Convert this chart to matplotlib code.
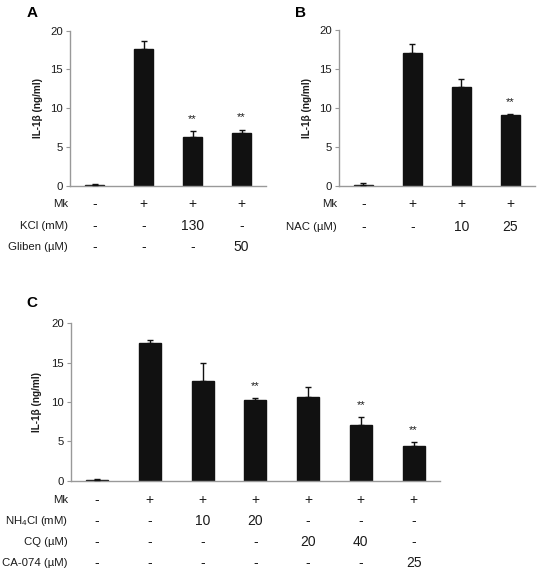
import matplotlib
matplotlib.use("Agg")
import matplotlib.pyplot as plt
import matplotlib.transforms as mtransforms

plt.rcParams['font.family'] = ['Liberation Sans', 'DejaVu Sans']
plt.rcParams['mathtext.fontset'] = 'custom'
plt.rcParams['mathtext.rm'] = 'Liberation Sans'
plt.rcParams['mathtext.it'] = 'Liberation Sans:italic'

# ---- data ----
a_values = [0.13, 17.6, 6.3, 6.75]
a_errors = [0.13, 1.05, 0.75, 0.5]
a_sig = ["", "", "**", "**"]
a_rows = ["Mk", "KCl (mM)", "Gliben (\u00b5M)"]
a_table = [["-", "+", "+", "+"],
           ["-", "-", "130", "-"],
           ["-", "-", "-", "50"]]

b_values = [0.13, 17.1, 12.7, 9.05]
b_errors = [0.17, 1.15, 0.95, 0.12]
b_sig = ["", "", "", "**"]
b_rows = ["Mk", "NAC (\u00b5M)"]
b_table = [["-", "+", "+", "+"],
           ["-", "-", "10", "25"]]

c_values = [0.12, 17.55, 12.7, 10.25, 10.6, 7.05, 4.4]
c_errors = [0.13, 0.38, 2.2, 0.22, 1.35, 1.05, 0.47]
c_sig = ["", "", "", "**", "", "**", "**"]
c_rows = ["Mk", "NH$_4$Cl (mM)", "CQ (\u00b5M)", "CA-074 (\u00b5M)"]
c_table = [["-", "+", "+", "+", "+", "+", "+"],
           ["-", "-", "10", "20", "-", "-", "-"],
           ["-", "-", "-", "-", "20", "40", "-"],
           ["-", "-", "-", "-", "-", "-", "25"]]

yticks = [0, 5, 10, 15, 20]
ylabel = "IL-1\u03b2 (ng/ml)"

W, H = 537, 572
fig = plt.figure(figsize=(W / 100, H / 100), dpi=100)

BAR = "#111111"
SPINE = "#999999"
TXT = "#1a1a1a"


def panel(rect, values, errors, sig, rows, table, letter, letter_xy,
          ylabel_x, row_label_x, row_ys, bw):
    ax = fig.add_axes(rect)
    x = list(range(len(values)))
    ax.bar(x, values, width=bw, color=BAR, edgecolor=BAR, zorder=2)
    ax.errorbar(x, values, yerr=[[0] * len(values), errors], fmt='none',
                ecolor=BAR, elinewidth=1.0, capsize=2.5, capthick=1.0, zorder=3)
    for xi, v, e, s in zip(x, values, errors, sig):
        if s:
            ax.text(xi, v + e + 0.9, s, ha='center', va='bottom',
                    fontsize=8, color=TXT)
    ax.set_xlim(-0.5, len(values) - 0.5)
    ax.set_ylim(0, 20)
    ax.set_yticks(yticks)
    ax.set_xticks([])
    for sp in ['top', 'right']:
        ax.spines[sp].set_visible(False)
    for sp in ['left', 'bottom']:
        ax.spines[sp].set_color(SPINE)
        ax.spines[sp].set_linewidth(1.0)
    ax.tick_params(axis='y', direction='out', length=3, width=0.8,
                   color=SPINE, labelsize=8.2, labelcolor=TXT, pad=2)
    fig.text(ylabel_x / W, (rect[1] + rect[3] / 2), ylabel, rotation=90,
             ha='center', va='center', fontsize=7.2, fontweight='bold',
             color=TXT)
    fig.text(letter_xy[0] / W, 1 - letter_xy[1] / H, letter, ha='center',
             va='center', fontsize=11, fontweight='bold', color='black')
    tr = mtransforms.blended_transform_factory(ax.transData, fig.transFigure)
    for r, (lab, ry) in enumerate(zip(rows, row_ys)):
        fy = 1 - ry / H
        fig.text(row_label_x / W, fy, lab, ha='right', va='center',
                 fontsize=8.2, color=TXT)
        for xi, t in zip(x, table[r]):
            ax.text(xi, fy, t, transform=tr, ha='center', va='center',
                    fontsize=10, color=TXT, clip_on=False)
    return ax


panel([70 / W, 1 - 185.7 / H, 196 / W, 155 / H], a_values, a_errors, a_sig,
      a_rows, a_table, "A", (32, 13), 38, 68, [204, 226, 247], 0.39)
panel([339 / W, 1 - 185.7 / H, 196 / W, 155.7 / H], b_values, b_errors, b_sig,
      b_rows, b_table, "B", (301, 13), 307, 337, [204, 227], 0.39)
panel([70.7 / W, 1 - 480.7 / H, 369.3 / W, 157.4 / H], c_values, c_errors,
      c_sig, c_rows, c_table, "C", (32, 303), 37, 68, [500, 521, 542, 563],
      0.42)

fig.savefig("out.png", dpi=100)
